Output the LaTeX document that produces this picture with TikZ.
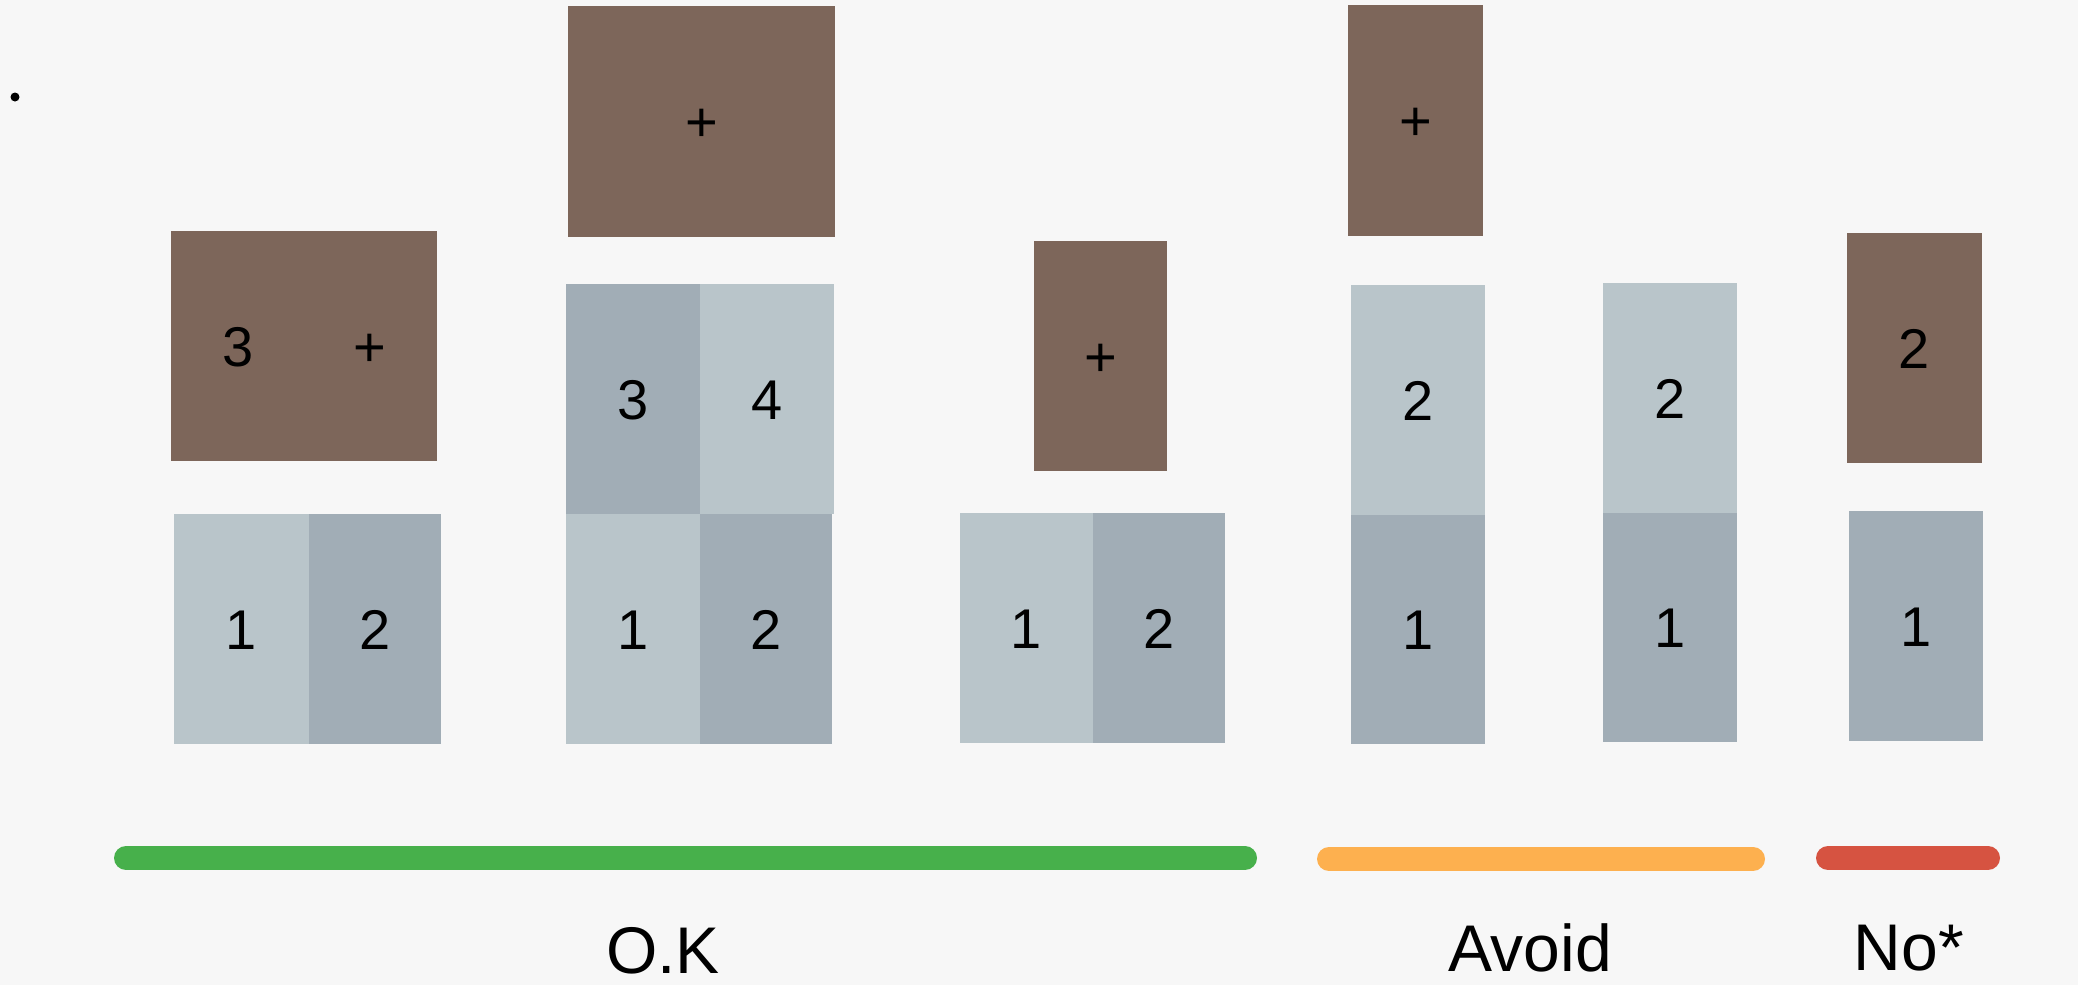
\documentclass[tikz,border=0pt]{standalone}
\usepackage{fontspec}
\setmainfont{Liberation Sans}
\definecolor{bg}{RGB}{247,247,247}
\definecolor{brownbox}{RGB}{125,102,90}
\definecolor{lightcell}{RGB}{185,197,202}
\definecolor{darkcell}{RGB}{161,173,182}
\definecolor{okgreen}{RGB}{71,176,75}
\definecolor{avoidorange}{RGB}{253,176,79}
\definecolor{nored}{RGB}{214,83,65}
\tikzset{
  cell/.style={rectangle, inner sep=0pt, minimum width=#1, minimum height=230pt,
    font=\fontsize{56}{60}\selectfont, text height=40pt, text depth=0pt, text=black},
  lightc/.style={cell=#1, fill=lightcell},
  darkc/.style={cell=#1, fill=darkcell},
  brownc/.style={cell=#1, fill=brownbox},
  digit/.style={inner sep=0pt, font=\fontsize{56}{60}\selectfont, text height=40pt, text depth=0pt},
  bar/.style={line width=24pt, line cap=round},
  caption/.style={inner sep=0pt, font=\fontsize{66}{70}\selectfont, text height=47pt, text depth=0pt}
}
\begin{document}
\begin{tikzpicture}[x=1pt,y=-1pt]
\fill[bg] (0,0) rectangle (2078,985);
\useasboundingbox (0,0) rectangle (2078,985);
\fill[black] (15,97) circle (4.5);
% group 1
\node[lightc=135pt] (g1a) at (241.5,629) {1};
\node[darkc=132pt] (g1b) at (375,629) {2};
\node[brownc=266pt] (g1top) at (304,345.5) {};
\node[digit] (g1three) at (238,346) {3};
\node[digit] (g1plus) at (370,346) {+};
% group 2
\node[lightc=134pt] (g2a) at (633,629) {1};
\node[darkc=132pt] (g2b) at (766,629) {2};
\node[darkc=134pt] (g2c) at (633,399) {3};
\node[lightc=134pt] (g2d) at (767,399) {4};
\node[brownc=267pt, minimum height=231pt] (g2top) at (701.5,121.5) {+};
% group 3
\node[lightc=133pt] (g3a) at (1026.5,628) {1};
\node[darkc=132pt] (g3b) at (1159,628) {2};
\node[brownc=133pt] (g3top) at (1100.5,356) {+};
% avoid column 1
\node[darkc=134pt, minimum height=229pt] (a1a) at (1418,629.5) {1};
\node[lightc=134pt] (a1b) at (1418,400) {2};
\node[brownc=135pt, minimum height=231pt] (a1top) at (1415.5,120.5) {+};
% avoid column 2
\node[darkc=134pt, minimum height=229pt] (a2a) at (1670,627.5) {1};
\node[lightc=134pt] (a2b) at (1670,398) {2};
% no column
\node[darkc=134pt] (n1) at (1916,626) {1};
\node[brownc=135pt] (ntop) at (1914.5,348) {2};
% bars
\coordinate (gs) at (126,858);
\coordinate (ge) at (1245,858);
\coordinate (os) at (1329,859);
\coordinate (oe) at (1753,859);
\coordinate (rs) at (1828,858);
\coordinate (re) at (1988,858);
\draw[bar, okgreen] (gs) -- (ge);
\draw[bar, avoidorange] (os) -- (oe);
\draw[bar, nored] (rs) -- (re);
% captions
\node[caption] (okl) at (663,950) {O.K};
\node[caption] (avl) at (1530,948) {Avoid};
\node[caption] (nol) at (1909,947) {No*};
\end{tikzpicture}
\end{document}
